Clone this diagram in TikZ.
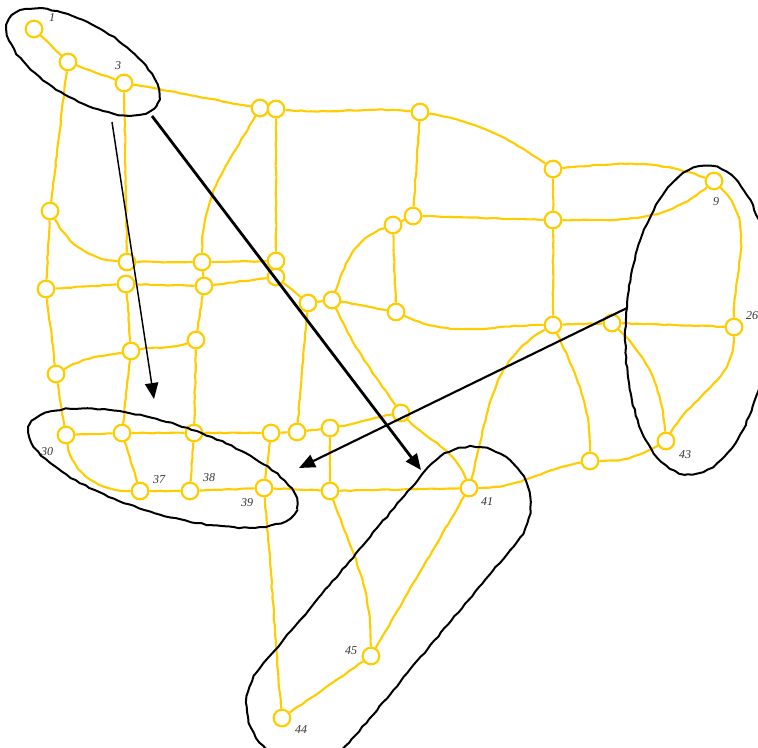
\documentclass[tikz,border=0pt]{standalone}
\usepackage{fontspec}
\setmainfont{Liberation Serif}
\usepackage{tikz}
\usetikzlibrary{arrows.meta,decorations.pathmorphing}
\definecolor{roadyellow}{RGB}{255,204,0}
\definecolor{tagtext}{RGB}{50,50,50}

\tikzset{
  stop/.style={circle, draw=roadyellow, line width=1.6pt, fill=white, inner sep=0pt, minimum size=12.5pt},
  road/.style={draw=roadyellow, line width=1.6pt, decorate, decoration={random steps, segment length=4pt, amplitude=0.35pt}},
  lasso/.style={draw=black, line width=1.5pt, decorate, decoration={random steps, segment length=4pt, amplitude=0.5pt}},
  tag/.style={font=\small\itshape, text=tagtext, inner sep=0pt},
  move/.style={draw=black, line width=#1, -{Triangle[length=12pt,width=10pt]}},
}

\begin{document}
\begin{tikzpicture}[x=0.75pt, y=0.75pt]
\useasboundingbox (0,0) rectangle (758,-748);

% stops
\node[stop] (n1) at (34,-29) {};
\node[stop] (n2) at (68,-62) {};
\node[stop] (n3) at (124,-83) {};
\node[stop] (n4) at (260,-108) {};
\node[stop] (n5) at (276,-109) {};
\node[stop] (n6) at (420,-112) {};
\node[stop] (n7) at (553,-169) {};
\node[stop] (n8) at (714,-181) {};
\node[stop] (n9) at (413,-216) {};
\node[stop] (n10) at (553,-220) {};
\node[stop] (n11) at (393,-225) {};
\node[stop] (n12) at (50,-211) {};
\node[stop] (n13) at (127,-262) {};
\node[stop] (n14) at (202,-262) {};
\node[stop] (n15) at (276,-261) {};
\node[stop] (n16) at (46,-289) {};
\node[stop] (n17) at (126,-284) {};
\node[stop] (n18) at (204,-286) {};
\node[stop] (n19) at (276,-277) {};
\node[stop] (n20) at (308,-303) {};
\node[stop] (n21) at (332,-300) {};
\node[stop] (n22) at (396,-312) {};
\node[stop] (n23) at (553,-325) {};
\node[stop] (n24) at (612,-323) {};
\node[stop] (n25) at (734,-327) {};
\node[stop] (n26) at (131,-351) {};
\node[stop] (n27) at (196,-340) {};
\node[stop] (n28) at (56,-374) {};
\node[stop] (n29) at (401,-413) {};
\node[stop] (n30) at (66,-435) {};
\node[stop] (n31) at (122,-433) {};
\node[stop] (n32) at (194,-433) {};
\node[stop] (n33) at (271,-433) {};
\node[stop] (n34) at (297,-432) {};
\node[stop] (n35) at (330,-428) {};
\node[stop] (n36) at (666,-441) {};
\node[stop] (n37) at (590,-461) {};
\node[stop] (n38) at (140,-491) {};
\node[stop] (n39) at (190,-491) {};
\node[stop] (n40) at (264,-488) {};
\node[stop] (n41) at (330,-491) {};
\node[stop] (n42) at (469,-488) {};
\node[stop] (n43) at (371,-656) {};
\node[stop] (n44) at (282,-718) {};

% roads, top part
\draw[road] (n1) -- (n2);
\draw[road] (n2) -- (n3);
\draw[road] (n2) -- (n12);
\draw[road] (n3) to[out=-10,in=170] (n4);
\draw[road] (n3) -- (n13);
\draw[road] (n4) to[out=-120,in=90] (n14);
\draw[road] (n5) to[out=-5,in=175] (n6);
\draw[road] (n5) -- (n15);
\draw[road] (n6) to[out=-10,in=145] (n7);
\draw[road] (n6) -- (n9);
\draw[road] (n7) to[out=5,in=160] (n8);
\draw[road] (n7) -- (n10);
\draw[road] (n10) to[out=0,in=-140] (n8);
\draw[road] (n8) to[out=-45,in=90] (n25);
\draw[road] (n9) -- (n10);
\draw[road] (n9) -- (n11);
\draw[road] (n11) to[out=200,in=70] (n21);
\draw[road] (n11) -- (n22);
\draw[road] (n10) -- (n23);

% roads, middle part
\draw[road] (n12) -- (n16);
\draw[road] (n12) to[out=-60,in=175] (n13);
\draw[road] (n13) -- (n14);
\draw[road] (n14) -- (n15);
\draw[road] (n14) -- (n18);
\draw[road] (n16) -- (n17);
\draw[road] (n17) -- (n18);
\draw[road] (n18) -- (n19);
\draw[road] (n19) -- (n20);
\draw[road] (n20) -- (n21);
\draw[road] (n20) -- (n34);
\draw[road] (n21) -- (n22);
\draw[road] (n21) to[out=-65,in=125] (n29);
\draw[road] (n22) to[out=-25,in=180] (n23);
\draw[road] (n23) -- (n24);
\draw[road] (n24) -- (n25);
\draw[road] (n23) to[out=-150,in=75] (n42);
\draw[road] (n23) to[out=-65,in=90] (n37);
\draw[road] (n24) to[out=-45,in=95] (n36);
\draw[road] (n25) to[out=-90,in=60] (n36);
\draw[road] (n36) to[out=-150,in=0] (n37);
\draw[road] (n42) to[out=0,in=190] (n37);
\draw[road] (n16) -- (n28);
\draw[road] (n17) -- (n26);
\draw[road] (n18) -- (n27);
\draw[road] (n26) to[out=10,in=200] (n27);
\draw[road] (n28) to[out=30,in=190] (n26);

% roads, bottom part
\draw[road] (n28) -- (n30);
\draw[road] (n26) -- (n31);
\draw[road] (n27) -- (n32);
\draw[road] (n30) -- (n31);
\draw[road] (n31) -- (n32);
\draw[road] (n32) -- (n33);
\draw[road] (n33) -- (n34);
\draw[road] (n34) -- (n35);
\draw[road] (n35) to[out=10,in=190] (n29);
\draw[road] (n29) to[out=-45,in=110] (n42);
\draw[road] (n30) to[out=-80,in=180] (n38);
\draw[road] (n31) -- (n38);
\draw[road] (n32) -- (n39);
\draw[road] (n38) -- (n39);
\draw[road] (n39) -- (n40);
\draw[road] (n40) -- (n41);
\draw[road] (n41) -- (n42);
\draw[road] (n33) -- (n40);
\draw[road] (n35) -- (n41);
\draw[road] (n40) to[out=-85,in=95] (n44);
\draw[road] (n41) to[out=-70,in=90] (n43);
\draw[road] (n42) -- (n43);
\draw[road] (n43) -- (n44);

% labels
\node[tag] (t1) at (52,-18) {1};
\node[tag] (t3) at (118,-66) {3};
\node[tag] (t9) at (716,-202) {9};
\node[tag] (t26) at (752,-316) {26};
\node[tag] (t30) at (47,-452) {30};
\node[tag] (t37) at (159,-480) {37};
\node[tag] (t38) at (209,-478) {38};
\node[tag] (t39) at (247,-503) {39};
\node[tag] (t41) at (487,-502) {41};
\node[tag] (t43) at (685,-455) {43};
\node[tag] (t45) at (351,-651) {45};
\node[tag] (t44) at (301,-730) {44};

% groups
\draw[lasso] (83,-62) ellipse [x radius=64pt, y radius=28pt, rotate=-30];
\draw[lasso] (163,-468) ellipse [x radius=105pt, y radius=34pt, rotate=-17];
\draw[lasso] (698,-320) ellipse [x radius=54pt, y radius=116pt, rotate=-4];
\draw[lasso] (349,-743) -- (517,-542) arc[start angle=-40, end angle=140, radius=43.5pt]
  -- (260,-668) arc[start angle=140, end angle=320, radius=43.5pt] -- cycle;

% moves
\coordinate (a1s) at (112,-122);
\coordinate (a1e) at (154,-399);
\coordinate (a2s) at (152,-116);
\coordinate (a2e) at (421,-470);
\coordinate (a3s) at (627,-308);
\coordinate (a3e) at (299,-468);
\draw[move=1.1pt] (a1s) -- (a1e);
\draw[move=2.1pt] (a2s) -- (a2e);
\draw[move=1.6pt] (a3s) -- (a3e);
\end{tikzpicture}
\end{document}
